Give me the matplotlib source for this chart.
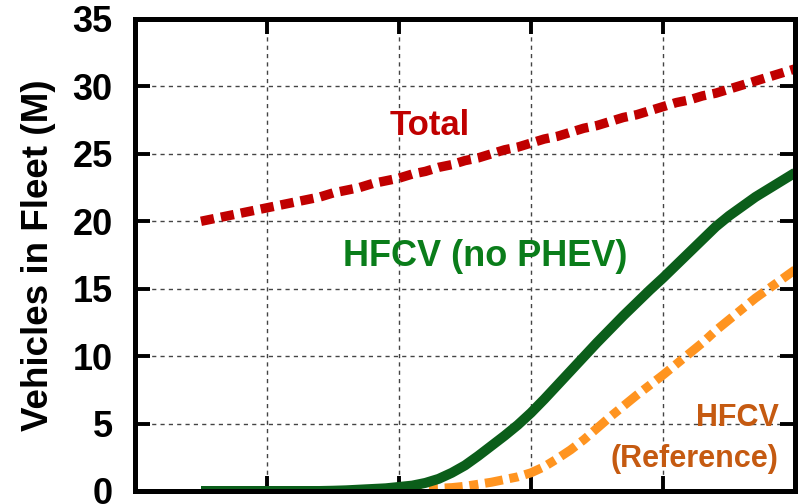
import matplotlib
matplotlib.use("Agg")
import matplotlib.pyplot as plt

years = list(range(2005, 2051))

total = [20.0, 20.2, 20.4, 20.6, 20.8, 21.0, 21.2, 21.4, 21.6, 21.8,
         22.1, 22.3, 22.5, 22.8, 23.0, 23.2, 23.5, 23.7, 24.0, 24.2,
         24.5, 24.7, 25.0, 25.3, 25.5, 25.8, 26.1, 26.3, 26.6, 26.9,
         27.1, 27.4, 27.7, 27.9, 28.2, 28.5, 28.8, 29.0, 29.3, 29.5,
         29.8, 30.1, 30.4, 30.7, 31.0, 31.3]

hfcv_no_phev = [0.0, 0.0, 0.0, 0.0, 0.0, 0.0, 0.0, 0.0, 0.0, 0.0,
                0.02, 0.05, 0.1, 0.15, 0.2, 0.3, 0.4, 0.6, 0.9, 1.35,
                1.9, 2.6, 3.35, 4.1, 4.9, 5.8, 6.8, 7.85, 8.9, 9.95,
                11.0, 12.0, 13.0, 13.95, 14.9, 15.8, 16.75, 17.7, 18.65, 19.6,
                20.4, 21.1, 21.8, 22.4, 23.0, 23.6]

hfcv_reference = [0.0, 0.0, 0.0, 0.0, 0.0, 0.0, 0.0, 0.0, 0.0, 0.0,
                  0.0, 0.0, 0.0, 0.02, 0.04, 0.06, 0.1, 0.15, 0.2, 0.25,
                  0.35, 0.5, 0.65, 0.85, 1.05, 1.35, 1.8, 2.4, 3.05, 3.8,
                  4.65, 5.5, 6.3, 7.1, 7.85, 8.6, 9.4, 10.2, 11.0, 11.9,
                  12.7, 13.5, 14.3, 15.0, 15.7, 16.4]

yticks = [0, 5, 10, 15, 20, 25, 30, 35]
xticks = [2010, 2020, 2030, 2040]

plt.rcParams['font.family'] = ['Liberation Sans', 'DejaVu Sans']
plt.rcParams['font.weight'] = 'bold'

fig = plt.figure(figsize=(8.01, 5.04), dpi=100)
ax = fig.add_axes([135/801, 1-491/504, (795-135)/801, (491-19)/504])

ax.plot(years, total, color='#C00000', lw=6.8, dashes=(1.4, 0.75),
        solid_capstyle='butt', dash_capstyle='butt', zorder=3)
ax.plot(years, hfcv_no_phev, color='#0B5E1A', lw=7.2,
        solid_capstyle='butt', solid_joinstyle='round', zorder=4)
ax.plot(years, hfcv_reference, color='#FF9420', lw=6.5,
        dashes=(2.0, 0.75, 1.0, 0.75), dash_capstyle='butt', zorder=3)

ax.set_xlim(2000, 2050)
ax.set_ylim(0, 35)
ax.set_xticks(xticks)
ax.set_xticklabels([])
ax.set_yticks(yticks)
ax.set_yticklabels([str(v) for v in yticks], fontsize=26, fontweight='bold')

for s in ax.spines.values():
    s.set_linewidth(3.6)
    s.set_zorder(6)

ax.tick_params(axis='both', direction='in', length=11, width=2.8,
               top=True, right=True, pad=16)
ax.grid(True, color='#444444', lw=1.0, ls=(0, (3, 3)), zorder=1)

ax.set_ylabel('Vehicles in Fleet (M)', fontsize=26.5, fontweight='bold',
              labelpad=12)

ax.text(2022.3, 27.1, 'Total', color='#C00000', fontsize=25,
        fontweight='bold', ha='center', va='center')
ax.text(2026.5, 17.4, 'HFCV (no PHEV)', color='#0A7D1A', fontsize=26,
        fontweight='bold', ha='center', va='center')
ax.text(2048.75, 5.4, 'HFCV', color='#C55A11', fontsize=22,
        fontweight='bold', ha='right', va='center')
ax.text(2048.75, 2.4, '(Reference)', color='#C55A11', fontsize=22,
        fontweight='bold', ha='right', va='center')

fig.savefig('out.png', dpi=100)
